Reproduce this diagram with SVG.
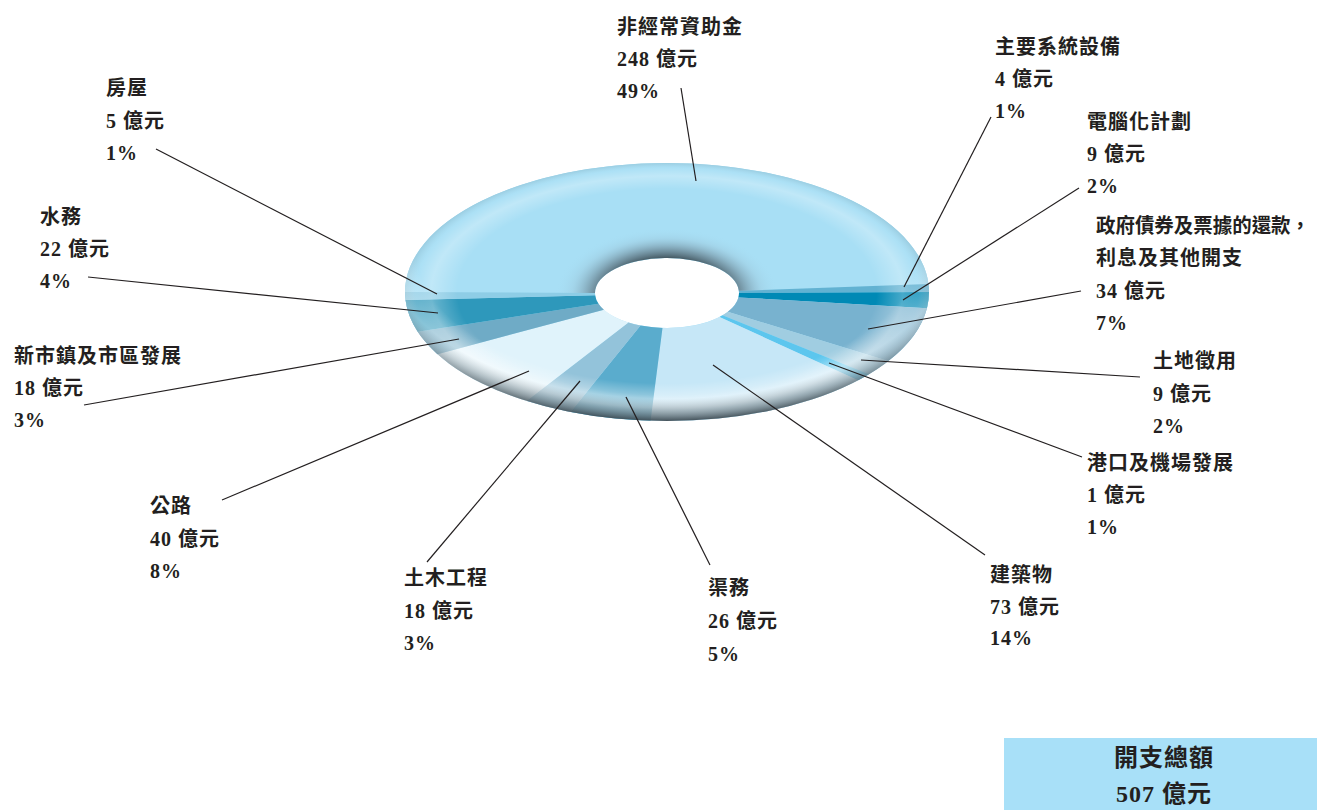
<svg xmlns="http://www.w3.org/2000/svg" width="1317" height="810" viewBox="0 0 1317 810">
<style>
.t{font-family:"Liberation Serif","Noto Sans CJK TC",serif;font-weight:bold;font-size:20px;fill:#231f20;letter-spacing:1px}
.tt{font-family:"Liberation Serif","Noto Sans CJK TC",serif;font-weight:bold;font-size:24px;fill:#231f20;letter-spacing:1px}
.ld{stroke:#231f20;stroke-width:1.2;fill:none}
</style>
<defs>
<path id="ring" fill-rule="evenodd" d="M405,292 A262,129 0 1 1 929,292 A262,129 0 1 1 405,292 Z M595,293 A72,35 0 1 0 739,293 A72,35 0 1 0 595,293 Z"/>
<clipPath id="bigclip"><path d="M405,292 A262,129 0 0 1 928.48,283.9 L738.86,290.8 A72,35 0 0 0 595,293 Z"/></clipPath>
<radialGradient id="rim" gradientUnits="userSpaceOnUse" cx="667" cy="292" r="262" gradientTransform="translate(667 292) scale(1 0.4924) translate(-667 -292)">
<stop offset="0" stop-color="#fff" stop-opacity="0"/>
<stop offset="0.8" stop-color="#fff" stop-opacity="0"/>
<stop offset="0.9" stop-color="#fff" stop-opacity="0.28"/>
<stop offset="0.96" stop-color="#fff" stop-opacity="0.05"/>
<stop offset="1" stop-color="#000" stop-opacity="0.08"/>
</radialGradient>
<radialGradient id="bot" gradientUnits="userSpaceOnUse" cx="667" cy="250" r="322" gradientTransform="translate(667 250) scale(1 0.531) translate(-667 -250)">
<stop offset="0" stop-color="#fff" stop-opacity="0"/>
<stop offset="0.78" stop-color="#fff" stop-opacity="0"/>
<stop offset="0.87" stop-color="#fff" stop-opacity="0.4"/>
<stop offset="0.94" stop-color="#8a969c" stop-opacity="0.65"/>
<stop offset="1" stop-color="#3e4c54" stop-opacity="0.95"/>
</radialGradient>
<radialGradient id="hole" gradientUnits="userSpaceOnUse" cx="667" cy="296" r="112" gradientTransform="translate(667 296) scale(1 0.607) translate(-667 -296)">
<stop offset="0" stop-color="#2f3d45" stop-opacity="0.95"/>
<stop offset="0.55" stop-color="#34444c" stop-opacity="0.9"/>
<stop offset="0.68" stop-color="#5a6e7a" stop-opacity="0.6"/>
<stop offset="0.85" stop-color="#8fb0c2" stop-opacity="0.2"/>
<stop offset="1" stop-color="#a8dff5" stop-opacity="0"/>
</radialGradient>
</defs>

<g id="donut">
<use href="#ring" fill="#a8dff5"/>
<path id="s-big" fill="#a8dff5" d="M405,292 A262,129 0 0 1 928.48,283.9 L738.86,290.8 A72,35 0 0 0 595,293 Z"/>
<path id="s-major" fill="#62b2d2" d="M928.48,283.9 A262,129 0 0 1 929,292 L739,293 A72,35 0 0 0 738.86,290.8 Z"/>
<path id="s-comp" fill="#0089b5" d="M929,292 A262,129 0 0 1 926.93,308.17 L738.43,297.39 A72,35 0 0 0 739,293 Z"/>
<path id="s-gov" fill="#78b2cf" d="M926.93,308.17 A262,129 0 0 1 888.21,361.12 L727.79,311.75 A72,35 0 0 0 738.43,297.39 Z"/>
<path id="s-land" fill="#a0cde1" d="M888.21,361.12 A262,129 0 0 1 868.87,374.23 L722.48,315.31 A72,35 0 0 0 727.79,311.75 Z"/>
<path id="s-port" fill="#5cc6ee" d="M868.87,374.23 A262,129 0 0 1 857.99,380.31 L719.49,316.96 A72,35 0 0 0 722.48,315.31 Z"/>
<path id="s-bldg" fill="#c6e7f7" d="M857.99,380.31 A262,129 0 0 1 650.55,420.75 L662.48,327.93 A72,35 0 0 0 719.49,316.96 Z"/>
<path id="s-drain" fill="#5aaccd" d="M650.55,420.75 A262,129 0 0 1 570.55,411.94 L640.5,325.54 A72,35 0 0 0 662.48,327.93 Z"/>
<path id="s-civil" fill="#93c3da" d="M570.55,411.94 A262,129 0 0 1 526.61,400.92 L628.42,322.55 A72,35 0 0 0 640.5,325.54 Z"/>
<path id="s-road" fill="#e0f3fb" d="M526.61,400.92 A262,129 0 0 1 437.41,354.15 L603.91,309.86 A72,35 0 0 0 628.42,322.55 Z"/>
<path id="s-town" fill="#6fabc6" d="M437.41,354.15 A262,129 0 0 1 417.82,331.86 L598.52,303.82 A72,35 0 0 0 603.91,309.86 Z"/>
<path id="s-water" fill="#2e98bb" d="M417.82,331.86 A262,129 0 0 1 405.52,300.1 L595.14,295.2 A72,35 0 0 0 598.52,303.82 Z"/>
<path id="s-house" fill="#8ecde6" d="M405.52,300.1 A262,129 0 0 1 405,292 L595,293 A72,35 0 0 0 595.14,295.2 Z"/>
<use href="#ring" fill="url(#rim)"/>
<use href="#ring" fill="url(#bot)"/>
<ellipse cx="667" cy="296" rx="112" ry="68" fill="url(#hole)" clip-path="url(#bigclip)"/>
</g>

<g id="connectors">
<line class="ld" x1="681" y1="88" x2="696" y2="181"/>
<line class="ld" x1="991" y1="117" x2="904" y2="287"/>
<line class="ld" x1="1079" y1="188" x2="903" y2="300"/>
<line class="ld" x1="1081" y1="291" x2="868" y2="329"/>
<line class="ld" x1="1140" y1="377" x2="861" y2="360"/>
<line class="ld" x1="1082" y1="457" x2="829" y2="363"/>
<line class="ld" x1="985" y1="555" x2="713" y2="365"/>
<line class="ld" x1="710" y1="565" x2="626" y2="397"/>
<line class="ld" x1="427" y1="562" x2="580" y2="381"/>
<line class="ld" x1="222" y1="500" x2="529" y2="371"/>
<line class="ld" x1="84" y1="405" x2="459" y2="339"/>
<line class="ld" x1="88" y1="277" x2="438" y2="313"/>
<line class="ld" x1="156" y1="149" x2="437" y2="294"/>
</g>

<g id="lbl-nonrecurrent"><text class="t" x="617" y="34">非經常資助金</text><text class="t" x="617" y="66">248 億元</text><text class="t" x="617" y="98">49%</text></g>
<g id="lbl-major"><text class="t" x="995" y="54">主要系統設備</text><text class="t" x="995" y="86">4 億元</text><text class="t" x="995" y="118">1%</text></g>
<g id="lbl-computer"><text class="t" x="1087" y="129">電腦化計劃</text><text class="t" x="1087" y="161">9 億元</text><text class="t" x="1087" y="193">2%</text></g>
<g id="lbl-gov"><text class="t" x="1096" y="233" style="letter-spacing:0" textLength="214" lengthAdjust="spacingAndGlyphs">政府債券及票據的還款，</text><text class="t" x="1096" y="265">利息及其他開支</text><text class="t" x="1096" y="298">34 億元</text><text class="t" x="1096" y="330">7%</text></g>
<g id="lbl-land"><text class="t" x="1153" y="368">土地徵用</text><text class="t" x="1153" y="401">9 億元</text><text class="t" x="1153" y="433">2%</text></g>
<g id="lbl-port"><text class="t" x="1087" y="470">港口及機場發展</text><text class="t" x="1087" y="502">1 億元</text><text class="t" x="1087" y="534">1%</text></g>
<g id="lbl-bldg"><text class="t" x="990" y="582">建築物</text><text class="t" x="990" y="614">73 億元</text><text class="t" x="990" y="645">14%</text></g>
<g id="lbl-drain"><text class="t" x="708" y="595">渠務</text><text class="t" x="708" y="628">26 億元</text><text class="t" x="708" y="661">5%</text></g>
<g id="lbl-civil"><text class="t" x="404" y="585">土木工程</text><text class="t" x="404" y="618">18 億元</text><text class="t" x="404" y="650">3%</text></g>
<g id="lbl-road"><text class="t" x="150" y="513">公路</text><text class="t" x="150" y="546">40 億元</text><text class="t" x="150" y="578">8%</text></g>
<g id="lbl-town"><text class="t" x="14" y="363">新市鎮及市區發展</text><text class="t" x="14" y="395">18 億元</text><text class="t" x="14" y="427">3%</text></g>
<g id="lbl-water"><text class="t" x="40" y="224">水務</text><text class="t" x="40" y="256">22 億元</text><text class="t" x="40" y="288">4%</text></g>
<g id="lbl-house"><text class="t" x="106" y="95">房屋</text><text class="t" x="106" y="128">5 億元</text><text class="t" x="106" y="160">1%</text></g>

<g id="total">
<rect x="1004" y="738" width="313" height="72" fill="#a8e0f8"/>
<text class="tt" x="1164" y="766" text-anchor="middle">開支總額</text>
<text class="tt" x="1164" y="802" text-anchor="middle">507 億元</text>
</g>
</svg>
